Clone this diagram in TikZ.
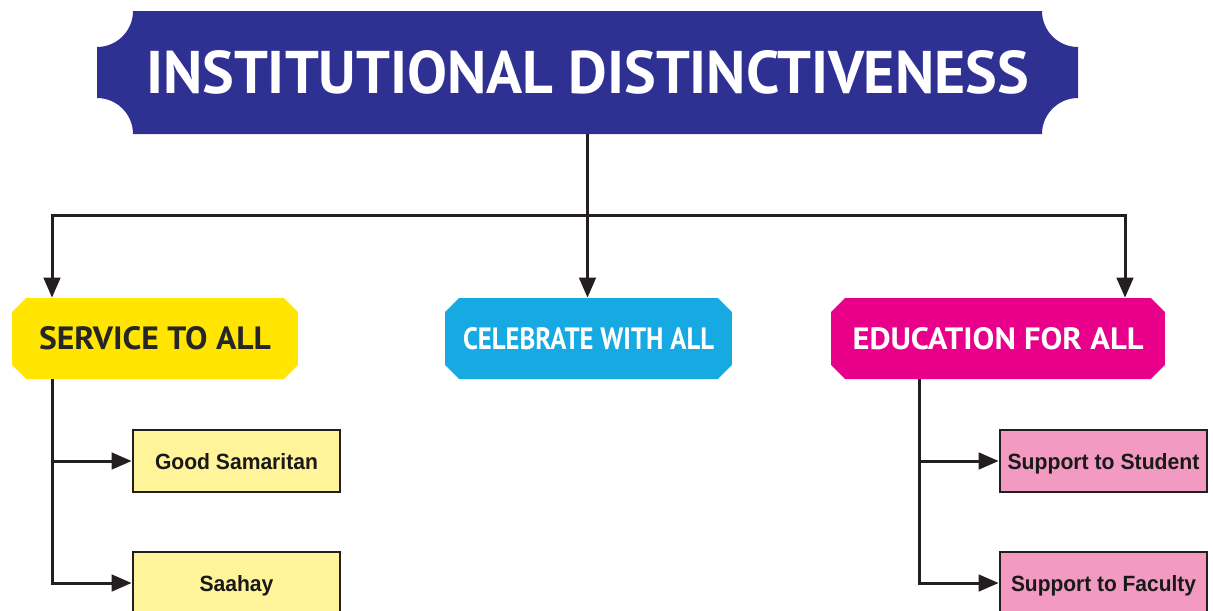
\documentclass[tikz,border=0pt]{standalone}
\usepackage{graphicx}
\usepackage{fontspec}
\setmainfont{Liberation Sans}
\newfontfamily\headfont{PT Sans}
\usetikzlibrary{arrows.meta}
\definecolor{bannerblue}{HTML}{2E3192}
\definecolor{hyellow}{HTML}{FFE500}
\definecolor{hcyan}{HTML}{17A9E1}
\definecolor{hmagenta}{HTML}{E8008A}
\definecolor{lyellow}{HTML}{FFF49A}
\definecolor{lpink}{HTML}{F39AC2}
\definecolor{linec}{HTML}{231F20}
\newcommand{\fitbox}[3]{\resizebox{#1}{#2}{#3}}
\tikzset{
  conn/.style={draw=linec, line width=0.06cm},
  arr/.style={conn, -{Triangle[length=0.4cm,width=0.33cm]}},
  headbox/.style={rectangle, inner sep=0pt, minimum height=1.62cm, text height=0.44cm, text depth=0pt,
    path picture={\fill[#1]
      ([xshift=0.28cm]path picture bounding box.north west) --
      ([xshift=-0.28cm]path picture bounding box.north east) --
      ([yshift=-0.28cm]path picture bounding box.north east) --
      ([yshift=0.28cm]path picture bounding box.south east) --
      ([xshift=-0.28cm]path picture bounding box.south east) --
      ([xshift=0.28cm]path picture bounding box.south west) --
      ([yshift=0.28cm]path picture bounding box.south west) --
      ([yshift=-0.28cm]path picture bounding box.north west) -- cycle;}},
  subbox/.style={rectangle, draw=linec, line width=0.055cm, fill=#1, inner sep=0pt,
    minimum width=4.14cm, minimum height=1.24cm, text height=0.32cm, text depth=0pt, text=black!90},
}
\begin{document}
\begin{tikzpicture}[x=0.02cm,y=0.02cm]
\useasboundingbox (0,0) rectangle (1213,-610);
% banner
\fill[bannerblue] (133,-11) -- (1042,-11) arc[start angle=180,end angle=270,radius=36]
  -- (1078,-98) arc[start angle=90,end angle=180,radius=36]
  -- (133,-134) arc[start angle=0,end angle=90,radius=36]
  -- (97,-47) arc[start angle=-90,end angle=0,radius=36] -- cycle;
\node[inner sep=0pt, minimum width=19.62cm, minimum height=2.46cm, text=white] (title) at (587.5,-72.5)
  {\fitbox{17.66cm}{0.86cm}{\headfont\bfseries INSTITUTIONAL DISTINCTIVENESS}};
% headers
\node[headbox=hyellow, minimum width=5.72cm, text=black!85] (service) at (155,-338.5)
  {\fitbox{4.64cm}{0.46cm}{\headfont\bfseries SERVICE TO ALL}};
\node[headbox=hcyan, minimum width=5.74cm, text=white] (celebrate) at (588.5,-338.5)
  {\fitbox{5.02cm}{0.44cm}{\headfont\bfseries CELEBRATE WITH ALL}};
\node[headbox=hmagenta, minimum width=6.68cm, text=white] (education) at (998,-338.5)
  {\fitbox{5.82cm}{0.44cm}{\headfont\bfseries EDUCATION FOR ALL}};
% sub boxes
\node[subbox=lyellow] (good) at (236.5,-461) {\fitbox{3.26cm}{0.32cm}{\bfseries Good Samaritan}};
\node[subbox=lyellow] (saahay) at (236.5,-583) {\fitbox{1.48cm}{0.32cm}{\bfseries Saahay}};
\node[subbox=lpink] (student) at (1103.5,-461) {\fitbox{3.84cm}{0.32cm}{\bfseries Support to Student}};
\node[subbox=lpink] (faculty) at (1103.5,-583) {\fitbox{3.70cm}{0.32cm}{\bfseries Support to Faculty}};
% connectors
\coordinate (busL) at (52,-215);
\coordinate (busR) at (1125,-215);
\coordinate (busM) at (title.south |- busL);
\coordinate (trunkR) at (919,-400);
\draw[arr] (title.south) |- (busL) -- (busL |- service.north);
\draw[arr] (busM) -| (busR |- education.north);
\draw[arr] (busM) -- (busM |- celebrate.north);
\draw[arr] (service.south -| busL) |- (saahay.west);
\draw[arr] (busL |- good.west) -- (good.west);
\draw[arr] (education.south -| trunkR) |- (faculty.west);
\draw[arr] (trunkR |- student.west) -- (student.west);
\end{tikzpicture}
\end{document}
